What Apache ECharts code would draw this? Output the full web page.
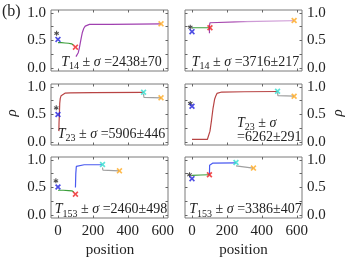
<!DOCTYPE html>
<html><head><meta charset="utf-8">
<script src="https://cdn.jsdelivr.net/npm/echarts@6/dist/echarts.min.js"></script>
<style>html,body{margin:0;padding:0;background:#fff}#c{width:353px;height:265px}</style>
</head><body><div id="c"></div>
<script>
// ---- tick values ----
const xTicks = [0, 200, 400, 600];
const yTicks = [0, 0.25, 0.5, 0.75, 1.0];
const yTickLabels = [0, 0.5, 1.0];

// ---- panel TL (T14, 2438±70) ----
const tlStar = [[-8, 0.63]];
const tlBlueX = [[0, 0.52]];
const tlGreen = [[0, 0.46], [20, 0.46], [40, 0.455], [60, 0.45], [78, 0.44], [88, 0.42]];
const tlRedX = [[100, 0.38]];
const tlPurple = [[103, 0.21], [110, 0.23], [116, 0.28], [122, 0.36], [128, 0.46], [134, 0.56], [140, 0.65], [148, 0.72], [156, 0.76], [165, 0.78], [180, 0.79], [300, 0.79], [450, 0.795], [590, 0.80]];
const tlOrangeX = [[590, 0.80]];

// ---- panel TR (T14, 3716±217) ----
const trStar = [[-10, 0.74]];
const trBlueX = [[0, 0.66]];
const trGreen = [[0, 0.73], [50, 0.73], [100, 0.73]];
const trRedX = [[103, 0.73]];
const trPurple = [[100, 0.63], [100, 0.76], [103, 0.82], [112, 0.835], [300, 0.84], [450, 0.85], [585, 0.86]];
const trOrangeX = [[585, 0.86]];

// ---- panel ML (T23, 5906±446) ----
const mlStar = [[-10, 0.62]];
const mlBlueX = [[0, 0.50]];
const mlRed = [[5, 0.20], [6, 0.35], [8, 0.50], [10, 0.70], [13, 0.79], [18, 0.84], [25, 0.87], [40, 0.885], [70, 0.89], [200, 0.895], [490, 0.90]];
const mlCyanX = [[490, 0.90]];
const mlGray = [[490, 0.87], [492, 0.81], [500, 0.80], [590, 0.80]];
const mlOrangeX = [[590, 0.80]];

// ---- panel MR (T23, 6262±291) ----
const mrStar = [[-10, 0.70]];
const mrBlueX = [[0, 0.65]];
const mrRed = [[0, 0.05], [88, 0.05], [96, 0.07], [103, 0.20], [112, 0.40], [120, 0.60], [130, 0.78], [137, 0.84], [143, 0.88], [150, 0.90], [170, 0.905], [300, 0.91], [490, 0.915]];
const mrCyanX = [[490, 0.92]];
const mrGray = [[490, 0.90], [492, 0.84], [500, 0.83], [585, 0.83]];
const mrOrangeX = [[585, 0.83]];

// ---- panel BL (T153, 2460±498) ----
const blStar = [[-12, 0.62]];
const blBlueX = [[0, 0.51]];
const blGreen = [[0, 0.45], [30, 0.45], [60, 0.445], [80, 0.44], [90, 0.42]];
const blRedX = [[100, 0.38]];
const blBlue = [[100, 0.50], [102, 0.75], [105, 0.88], [112, 0.905], [150, 0.91], [253, 0.91]];
const blCyanX = [[255, 0.915]];
const blGray = [[255, 0.86], [257, 0.815], [265, 0.81], [350, 0.80]];
const blOrangeX = [[352, 0.80]];

// ---- panel BR (T153, 3386±407) ----
const brStar = [[-14, 0.73]];
const brBlueX = [[0, 0.66]];
const brGreen = [[0, 0.72], [50, 0.725], [97, 0.73]];
const brRedX = [[100, 0.73]];
const brBlue = [[100, 0.73], [101, 0.90], [105, 0.935], [120, 0.94], [252, 0.945]];
const brCyanX = [[252, 0.95]];
const brGray = [[252, 0.89], [254, 0.86], [260, 0.855], [350, 0.85]];
const brOrangeX = [[352, 0.85]];

// ---- annotation texts ----
const notes = [
  {sub: '14', val: '=2438±70'},
  {sub: '14', val: '=3716±217'},
  {sub: '23', val: '=5906±446'},
  {sub: '23', val: '=6262±291'},
  {sub: '153', val: '=2460±498'},
  {sub: '153', val: '=3386±407'}
];

const FONT = '"Liberation Serif", "DejaVu Serif", serif';
const C = {
  green: '#3c9f3c', blueX: '#2020dd', redX: '#ee2222', orangeX: '#ffaa22', cyanX: '#33ddd0',
  purple: '#a040b0', darkred: '#b84444', blue: '#4a5af0', gray: '#a0a0a0', star: '#222222'
};
const X_PATH = 'path://M2,0L5,3L8,0L10,2L7,5L10,8L8,10L5,7L2,10L0,8L3,5L0,2Z';
const STAR_PATH = 'path://M4,0H6V3.3L8.7,1.7L9.7,3.4L7,5L9.7,6.6L8.7,8.3L6,6.7V10H4V6.7L1.3,8.3L0.3,6.6L3,5L0.3,3.4L1.3,1.7L4,3.3Z';

const grids = [], xAxes = [], yAxes = [], series = [];
const tops = [10, 84, 157];
for (let p = 0; p < 6; p++) {
  const col = p % 2, row = Math.floor(p / 2);
  grids.push({left: col ? 185 : 51, top: tops[row], width: 117, height: 61, show: true,
    borderColor: '#7a7a7a', borderWidth: 1, backgroundColor: 'transparent'});
  const tick = {show: true, inside: true, length: 2.5, lineStyle: {color: '#666', width: 1}};
  const lab = {fontFamily: FONT, fontSize: 15, color: '#222'};
  ['bottom', 'top'].forEach(pos => xAxes.push({
    gridIndex: p, type: 'value', min: -40, max: 630, position: pos,
    axisLine: {show: false, onZero: false}, splitLine: {show: false},
    axisTick: Object.assign({customValues: xTicks}, tick),
    axisLabel: Object.assign({show: pos === 'bottom' && row === 2, customValues: xTicks, margin: 6}, lab)
  }));
  ['left', 'right'].forEach(pos => yAxes.push({
    gridIndex: p, type: 'value', min: -0.05, max: 1.05, position: pos,
    axisLine: {show: false, onZero: false}, splitLine: {show: false},
    axisTick: Object.assign({customValues: yTicks}, tick),
    axisLabel: Object.assign({show: (pos === 'left') === (col === 0), customValues: yTickLabels, margin: 5,
      formatter: v => Number(v).toFixed(1)}, lab)
  }));
}
function line(p, data, color, lineColor) {
  series.push({type: 'line', xAxisIndex: 2 * p, yAxisIndex: 2 * p, data, symbol: 'none', showSymbol: false,
    lineStyle: {color: lineColor || color, width: 1.2}, z: 2, silent: true});
}
function mark(p, data, kind, color) {
  series.push({type: 'scatter', xAxisIndex: 2 * p, yAxisIndex: 2 * p, data,
    symbol: kind === 'x' ? X_PATH : STAR_PATH, symbolSize: kind === 'x' ? 6 : 5,
    itemStyle: {color}, z: 3, silent: true});
}
// TL
line(0, tlGreen, C.green); line(0, tlPurple, C.purple);
mark(0, tlStar, '*', C.star); mark(0, tlBlueX, 'x', C.blueX); mark(0, tlRedX, 'x', C.redX); mark(0, tlOrangeX, 'x', C.orangeX);
// TR
line(1, trGreen, C.green);
line(1, trPurple, C.purple, {type: 'linear', x: 0, y: 0, x2: 1, y2: 0, colorStops: [
  {offset: 0, color: '#a040a8'}, {offset: 0.3, color: '#a848b0'}, {offset: 0.45, color: '#cc98d4'}, {offset: 1, color: '#d8aede'}]});
mark(1, trStar, '*', C.star); mark(1, trBlueX, 'x', C.blueX); mark(1, trRedX, 'x', C.redX); mark(1, trOrangeX, 'x', C.orangeX);
// ML
line(2, mlRed, C.darkred); line(2, mlGray, C.gray);
mark(2, mlStar, '*', C.star); mark(2, mlBlueX, 'x', C.blueX); mark(2, mlCyanX, 'x', C.cyanX); mark(2, mlOrangeX, 'x', C.orangeX);
// MR
line(3, mrRed, C.darkred); line(3, mrGray, C.gray);
mark(3, mrStar, '*', C.star); mark(3, mrBlueX, 'x', C.blueX); mark(3, mrCyanX, 'x', C.cyanX); mark(3, mrOrangeX, 'x', C.orangeX);
// BL
line(4, blGreen, C.green); line(4, blBlue, C.blue); line(4, blGray, C.gray);
mark(4, blStar, '*', C.star); mark(4, blBlueX, 'x', C.blueX); mark(4, blRedX, 'x', C.redX); mark(4, blCyanX, 'x', C.cyanX); mark(4, blOrangeX, 'x', C.orangeX);
// BR
line(5, brGreen, C.green); line(5, brBlue, C.blue); line(5, brGray, C.gray);
mark(5, brStar, '*', C.star); mark(5, brBlueX, 'x', C.blueX); mark(5, brRedX, 'x', C.redX); mark(5, brCyanX, 'x', C.cyanX); mark(5, brOrangeX, 'x', C.orangeX);

// ---- texts ----
const rich = {
  i: {fontFamily: FONT, fontSize: 14, fontStyle: 'italic', height: 14, verticalAlign: 'top', fill: '#222'},
  s: {fontFamily: FONT, fontSize: 10, height: 23, verticalAlign: 'top', fill: '#222'},
  n: {fontFamily: FONT, fontSize: 14, height: 14, verticalAlign: 'top', fill: '#222'}
};
function noteText(n, withVal) {
  return '{i|T}{s|' + n.sub + '}{n| ± }{i|σ}' + (withVal ? '{n| ' + n.val + '}' : '');
}
const notePos = [[111.5, 62], [245.5, 62], [111.5, 134], null, [111, 209.5], [245.5, 209.5]];
const graphic = [];
notes.forEach((n, k) => {
  if (notePos[k]) {
    graphic.push({type: 'text', x: notePos[k][0], y: notePos[k][1] - 7, z: 10,
      style: {text: noteText(n, true), rich, align: 'center', verticalAlign: 'top'}});
  }
});
graphic.push({type: 'text', x: 237, y: 123 - 7, z: 10, style: {text: noteText(notes[3], false), rich, align: 'left', verticalAlign: 'top'}});
graphic.push({type: 'text', x: 237, y: 137, z: 10, style: {text: notes[3].val, fontFamily: FONT, fontSize: 14, fill: '#222', align: 'left', verticalAlign: 'middle'}});
graphic.push({type: 'text', x: 2, y: 12, style: {text: '(b)', fontFamily: FONT, fontSize: 16, fill: '#222', align: 'left', verticalAlign: 'middle'}});
graphic.push({type: 'text', x: 110, y: 250, style: {text: 'position', fontFamily: FONT, fontSize: 15, fill: '#222', align: 'center', verticalAlign: 'middle'}});
graphic.push({type: 'text', x: 243.5, y: 250, style: {text: 'position', fontFamily: FONT, fontSize: 15, fill: '#222', align: 'center', verticalAlign: 'middle'}});
graphic.push({type: 'text', x: 12, y: 113, rotation: Math.PI / 2, style: {text: 'ρ', fontFamily: FONT, fontStyle: 'italic', fontSize: 15, fill: '#222', align: 'center', verticalAlign: 'middle'}});
graphic.push({type: 'text', x: 338, y: 113, rotation: Math.PI / 2, style: {text: 'ρ', fontFamily: FONT, fontStyle: 'italic', fontSize: 15, fill: '#222', align: 'center', verticalAlign: 'middle'}});

const chart = echarts.init(document.getElementById('c'), null, {renderer: 'canvas'});
chart.setOption({animation: false, grid: grids, xAxis: xAxes, yAxis: yAxes, series, graphic});
</script></body></html>
